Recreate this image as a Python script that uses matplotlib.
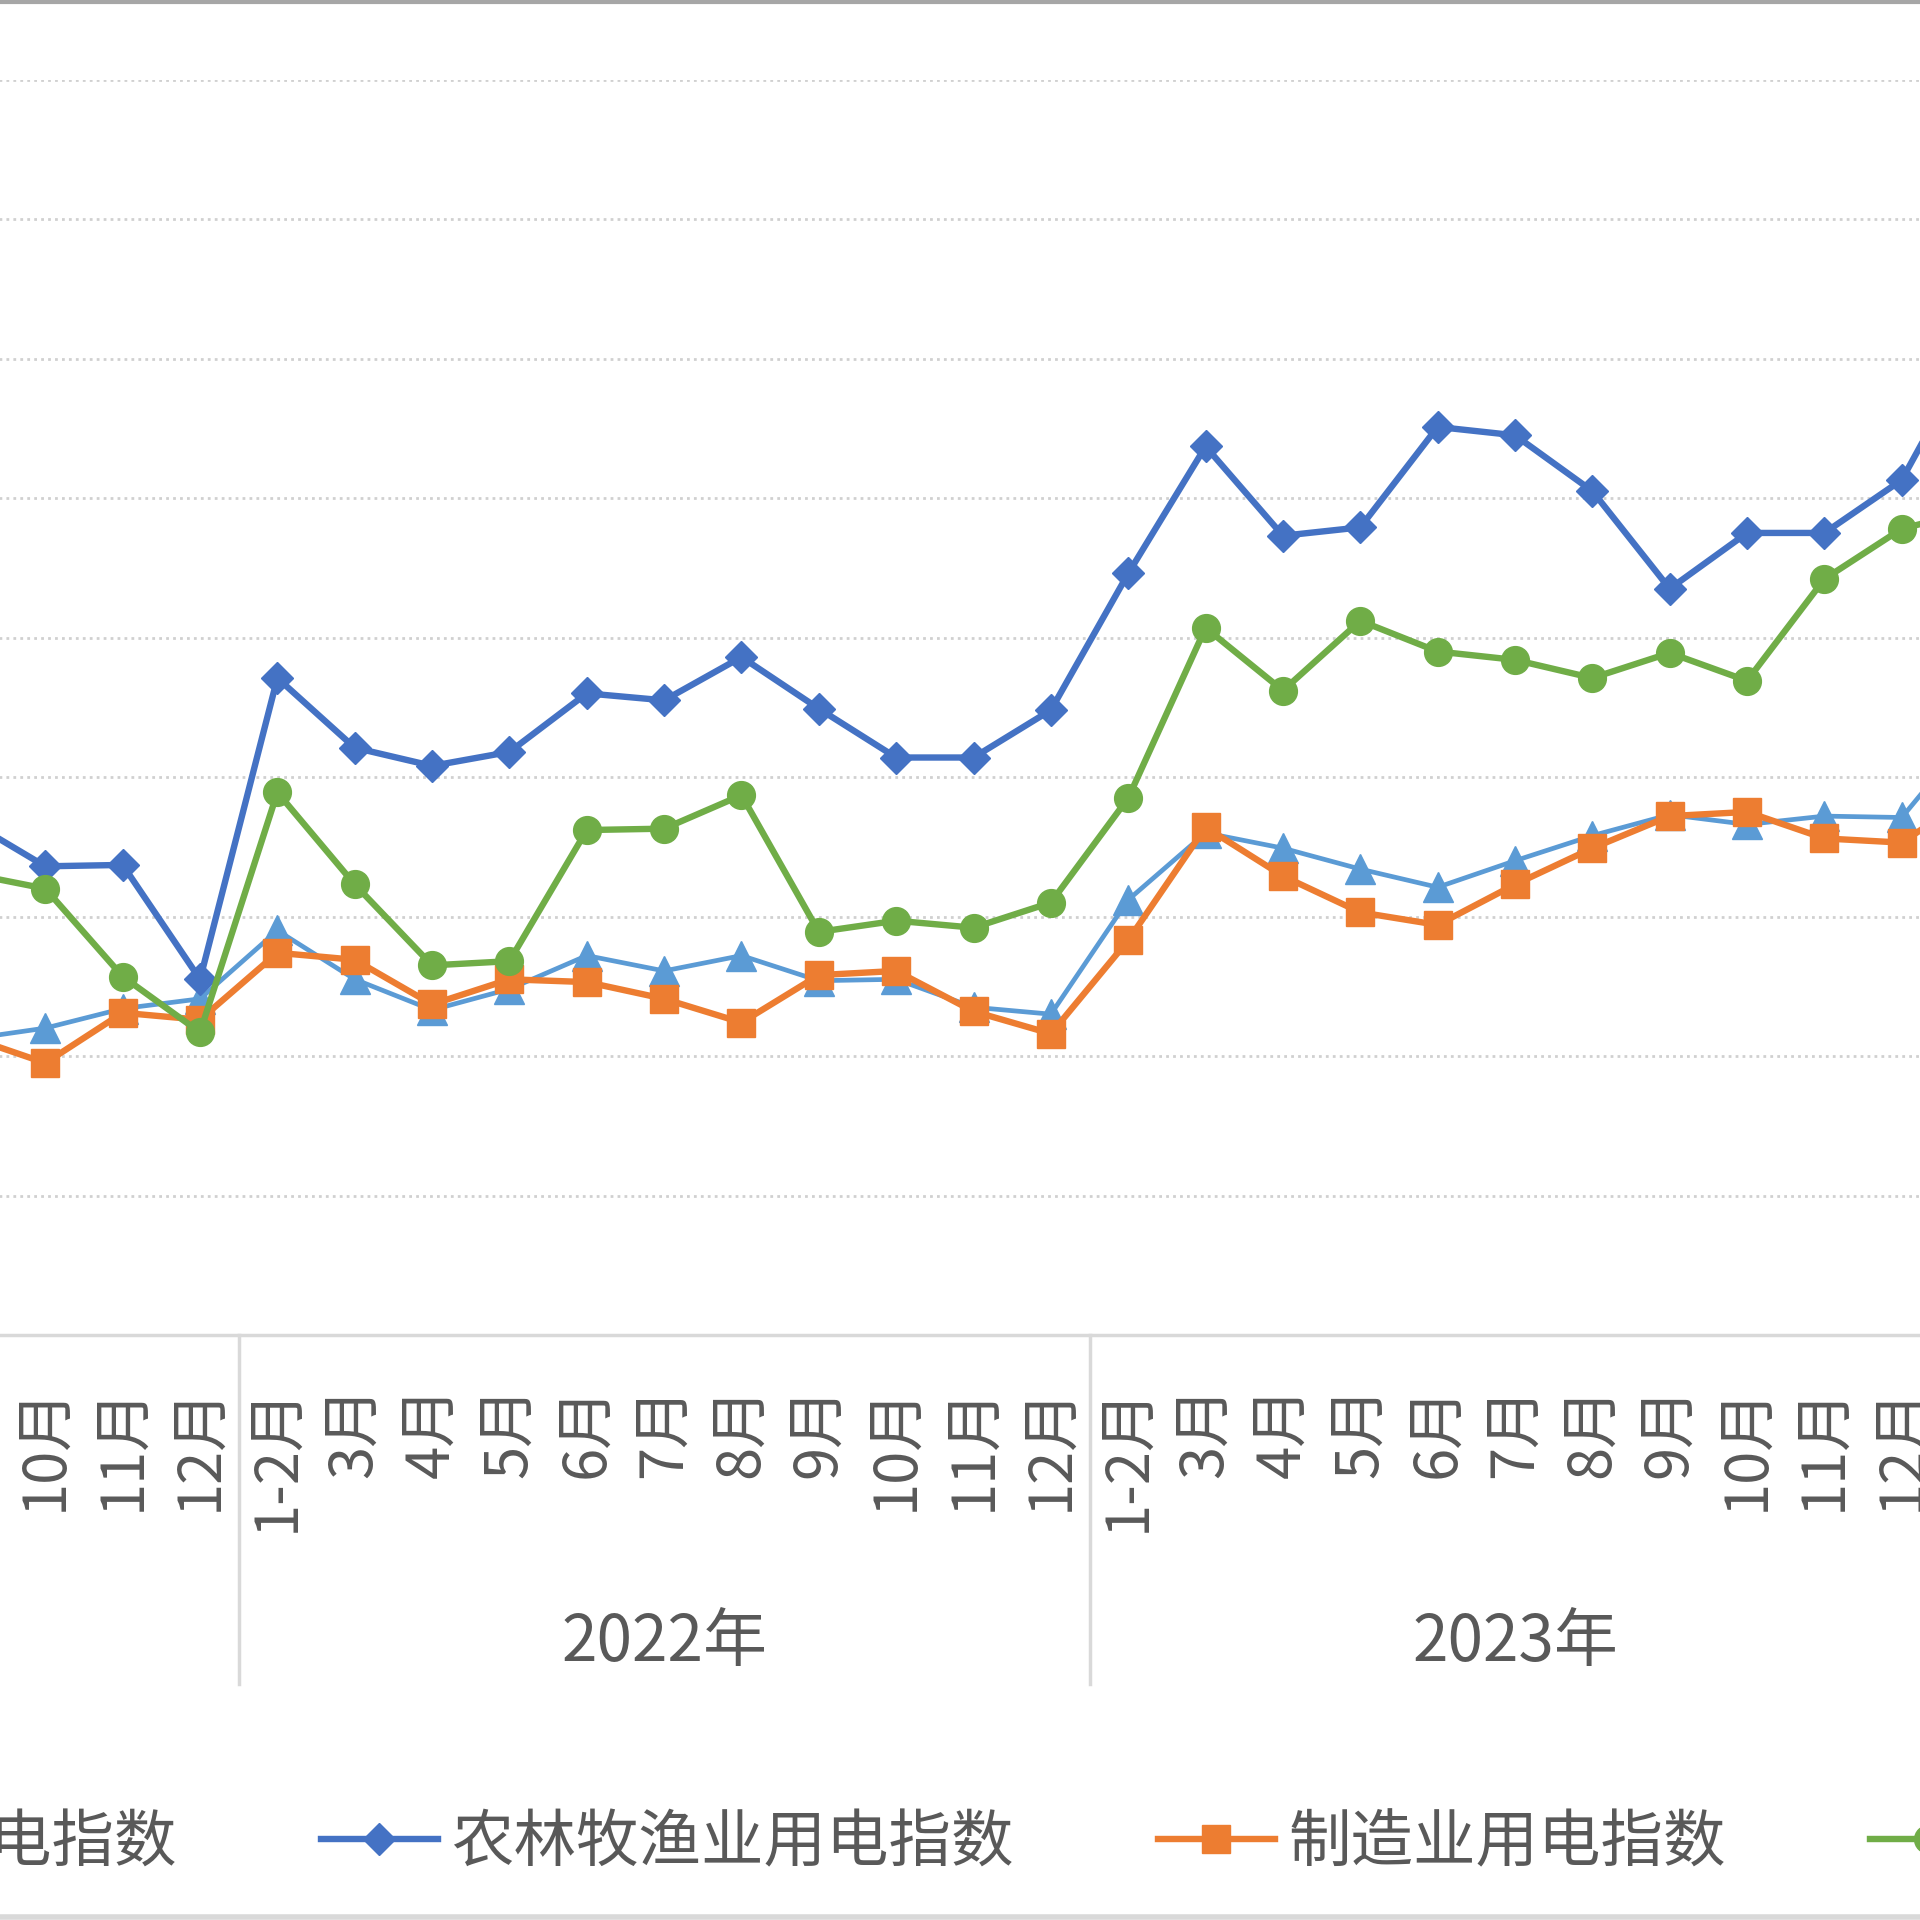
import matplotlib.pyplot as plt
from matplotlib.lines import Line2D
import matplotlib.transforms as mtransforms

plt.rcParams['font.family'] = ['Noto Sans CJK SC', 'DejaVu Sans']

# categories (2021 tail, 2022, 2023, 2024 head)
months = ['9月', '10月', '11月', '12月',
          '1-2月', '3月', '4月', '5月', '6月', '7月', '8月', '9月', '10月', '11月', '12月',
          '1-2月', '3月', '4月', '5月', '6月', '7月', '8月', '9月', '10月', '11月', '12月',
          '1-2月']
years = ['2022年', '2023年']
year_centers = [9, 20]
year_bounds = [-0.5, 3.5, 14.5, 25.5]

total = [81.2, 82.0, 83.4, 84.1,
         89.0, 85.5, 83.3, 84.8, 87.2, 86.1, 87.2, 85.4, 85.5, 83.5, 83.0,
         91.2, 96.0, 94.9, 93.4, 92.1, 94.0, 95.8, 97.3, 96.6, 97.2, 97.1,
         103.8]
agri = [96.9, 93.6, 93.7, 85.5,
        107.1, 102.1, 100.8, 101.8, 106.0, 105.5, 108.6, 104.9, 101.4, 101.4, 104.8,
        114.6, 123.7, 117.3, 117.9, 125.1, 124.5, 120.5, 113.5, 117.5, 117.5, 121.3,
        131.4]
manu = [81.4, 79.5, 83.1, 82.6,
        87.4, 86.9, 83.7, 85.5, 85.3, 84.1, 82.4, 85.8, 86.1, 83.2, 81.6,
        88.3, 96.4, 92.9, 90.3, 89.4, 92.3, 94.9, 97.2, 97.5, 95.6, 95.3,
        99.0]
serv = [93.1, 92.0, 85.7, 81.7,
        98.9, 92.3, 86.5, 86.8, 96.2, 96.3, 98.7, 88.9, 89.7, 89.2, 91.0,
        98.5, 110.7, 106.2, 111.2, 109.0, 108.4, 107.1, 108.9, 106.9, 114.2, 117.8,
        119.2]

x = list(range(len(months)))
grey = '#595959'

fig = plt.figure(figsize=(19.2, 19.2), dpi=100)
ax = fig.add_axes([-0.03682, 0.30469, 1.08776, 0.65385])

ax.plot(x, total, color='#5B9BD5', lw=3.4, marker='^', ms=22, zorder=3, label='全社会用电指数')
ax.plot(x, agri, color='#4472C4', lw=4.6, marker='D', ms=16, zorder=4, label='农林牧渔业用电指数')
ax.plot(x, manu, color='#ED7D31', lw=4.6, marker='s', ms=20.5, zorder=5, label='制造业用电指数')
ax.plot(x, serv, color='#70AD47', lw=4.6, marker='o', ms=20, zorder=6, label='服务业用电指数')

ax.set_xlim(-0.5, len(months) - 0.5)
ax.set_ylim(60, 150)
ax.set_yticks(range(60, 151, 10))
ax.tick_params(axis='y', left=False, labelleft=False)
ax.grid(axis='y', color='#d0d0d0', linestyle=(0, (1, 1.5)), linewidth=2)
ax.set_axisbelow(True)
for s in ['left', 'right', 'top']:
    ax.spines[s].set_visible(False)
ax.spines['bottom'].set_color('#d9d9d9')
ax.spines['bottom'].set_linewidth(2.5)

ax.set_xticks(x, months, rotation=90)
ax.tick_params(axis='x', length=0, pad=36, labelsize=43, labelcolor=grey)

trans = mtransforms.blended_transform_factory(ax.transData, ax.transAxes)
for b in year_bounds:
    ax.plot([b, b], [0, -0.278], transform=trans, color='#d9d9d9', lw=2.5, clip_on=False)
for c, yl in zip(year_centers, years):
    ax.text(c, -0.245, yl, transform=trans, ha='center', va='center', fontsize=46, color=grey)

fig.legend(loc='center left', bbox_to_anchor=(-391 / 1920, 1 - 1843 / 1920), ncol=4,
           frameon=False, fontsize=45, handlelength=1.87, handletextpad=0.22,
           columnspacing=2.3, borderpad=0, borderaxespad=0, labelcolor=grey)

fig.add_artist(Line2D([0, 1], [0.999, 0.999], color='#a6a6a6', lw=3))
fig.add_artist(Line2D([0, 1], [0.0015, 0.0015], color='#d9d9d9', lw=4))

fig.savefig('out.png', dpi=100)
